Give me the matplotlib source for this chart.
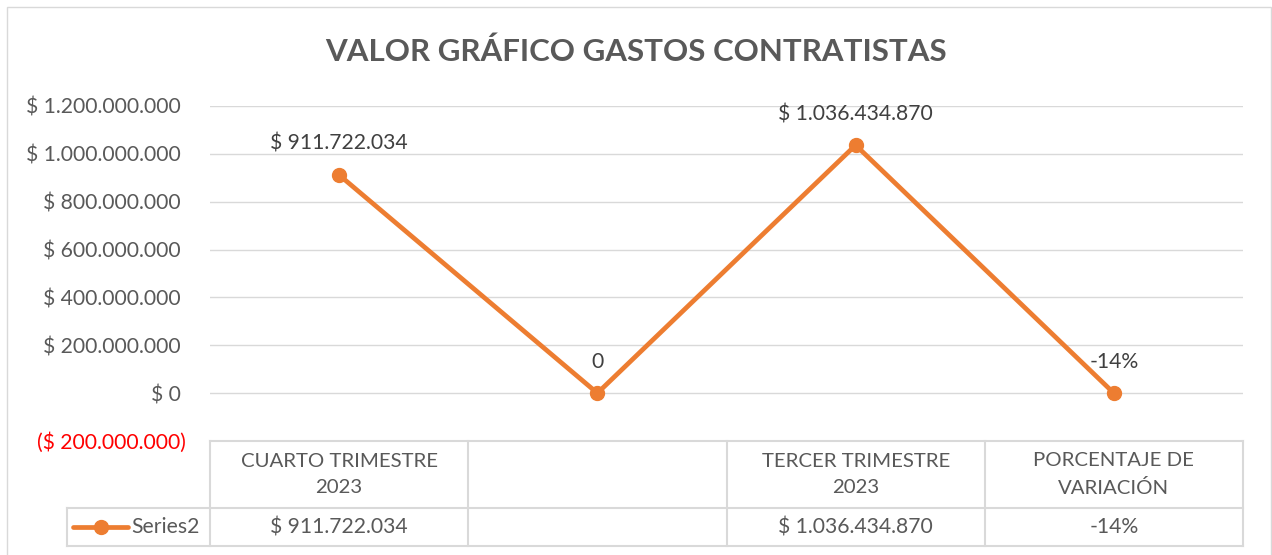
import matplotlib
matplotlib.use("Agg")
import matplotlib.pyplot as plt
from matplotlib.lines import Line2D
from matplotlib.patches import Rectangle
import matplotlib.transforms as mtransforms

# ---- data ----
categories = ["CUARTO TRIMESTRE\n2023", "", "TERCER TRIMESTRE\n2023", "PORCENTAJE DE\nVARIACIÓN"]
values = [911722034, 0, 1036434870, -0.14]
point_labels = ["$ 911.722.034", "0", "$ 1.036.434.870", "-14%"]
table_values = ["$ 911.722.034", "", "$ 1.036.434.870", "-14%"]
series_name = "Series2"
yticks = [-200000000, 0, 200000000, 400000000, 600000000, 800000000, 1000000000, 1200000000]
ytick_labels = ["($ 200.000.000)", "$ 0", "$ 200.000.000", "$ 400.000.000", "$ 600.000.000",
                "$ 800.000.000", "$ 1.000.000.000", "$ 1.200.000.000"]
title = "VALOR GRÁFICO GASTOS CONTRATISTAS"

W, H = 1272, 555
FONT = ["Lato", "DejaVu Sans"]
TXT = "#595959"
GRID = "#D9D9D9"
ORANGE = "#ED7D31"
FS = 15.2
plt.rcParams['font.family'] = FONT

fig = plt.figure(figsize=(W / 100, H / 100), dpi=100)

def fx(px):
    return px / W

def fy(py):
    return 1 - py / H

# outer border
fig.add_artist(Rectangle((fx(7), fy(560)), fx(1271) - fx(7), fy(7) - fy(560),
                         transform=fig.transFigure, fill=False, edgecolor=GRID, lw=1))

L, R, T, B = 210, 1243, 106, 441
ax = fig.add_axes([fx(L), fy(B), fx(R) - fx(L), fy(T) - fy(B)])
ax.set_xlim(-0.5, len(values) - 0.5)
ax.set_ylim(yticks[0], yticks[-1])
for s in ax.spines.values():
    s.set_visible(False)
ax.set_xticks([])
ax.set_yticks(yticks)
ax.set_yticklabels(ytick_labels)
ax.tick_params(axis='y', length=0, pad=21, labelsize=FS, labelcolor=TXT)
for t in ax.get_yticklabels():
    if t.get_text().startswith("("):
        t.set_color("#FF0000")
        t.set_transform(t.get_transform() + mtransforms.ScaledTranslation(5 / 100, 0, fig.dpi_scale_trans))
for yv in yticks[1:]:
    ax.axhline(yv, color=GRID, lw=1, zorder=1)

xs = list(range(len(values)))
ax.plot(xs, values, color=ORANGE, lw=3.4, marker='o', markersize=10, zorder=3,
        solid_capstyle='round')
for x, v, lab in zip(xs, values, point_labels):
    ax.annotate(lab, (x, v), xytext=(0, 18), textcoords='offset points', ha='center',
                va='baseline', fontsize=FS, color="#404040")

fig.text(0.5, fy(52), title, ha='center', va='center', fontsize=22.5, fontweight='bold', color=TXT)

# ---- data table below the plot ----
ax_h = B - T
def ay(py):
    return (B - py) / ax_h

tr_x = mtransforms.blended_transform_factory(ax.transData, ax.transAxes)
row1, row2 = ay(508), ay(546)
left_col = (67 - L) / (R - L)
lk = dict(color=GRID, lw=1.5, clip_on=False)
# horizontal lines
ax.add_line(Line2D([-0.5, 3.5], [0, 0], transform=tr_x, **lk))
ax.add_line(Line2D([left_col, 1], [row1, row1], transform=ax.transAxes, **lk))
ax.add_line(Line2D([left_col, 1], [row2, row2], transform=ax.transAxes, **lk))
# vertical lines
for xb in [i - 0.5 for i in range(len(values) + 1)]:
    ax.add_line(Line2D([xb, xb], [0, row2], transform=tr_x, **lk))
ax.add_line(Line2D([left_col, left_col], [row1, row2], transform=ax.transAxes, **lk))

for x, cat, tv in zip(xs, categories, table_values):
    ax.text(x, (0 + row1) / 2, cat, transform=tr_x, ha='center', va='center',
            fontsize=14.7, color=TXT, linespacing=1.6)
    ax.text(x, (row1 + row2) / 2, tv, transform=tr_x, ha='center', va='center',
            fontsize=FS, color=TXT)

# legend key
ymid = (row1 + row2) / 2
kx0, kx1 = (73 - L) / (R - L), (128 - L) / (R - L)
ax.add_line(Line2D([kx0, kx1], [ymid, ymid], transform=ax.transAxes, color=ORANGE, lw=3.4,
                   solid_capstyle='round', clip_on=False))
ax.add_line(Line2D([(kx0 + kx1) / 2], [ymid], transform=ax.transAxes, color=ORANGE,
                   marker='o', markersize=10, clip_on=False))
ax.text((131 - L) / (R - L), ymid, series_name, transform=ax.transAxes, ha='left', va='center',
        fontsize=FS, color=TXT)

fig.savefig("out.png", dpi=100)
